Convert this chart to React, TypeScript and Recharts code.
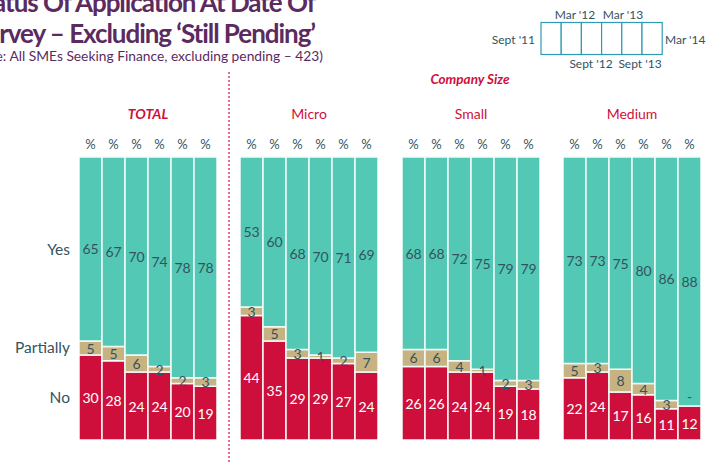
import React from 'react'
import { BarChart, Bar, XAxis, YAxis, LabelList } from 'recharts'

// survey waves, oldest first
const periods = ["Sept '11", "Mar '12", "Sept '12", "Mar '13", "Sept '13", "Mar '14"]
const periodsAbove = ["Mar '12", "Mar '13"]
const periodsBelow = ["Sept '12", "Sept '13"]

const panelNames = ['TOTAL', 'Micro', 'Small', 'Medium']
const rowLabels = ['Yes', 'Partially', 'No']

const totalNo = [30, 28, 24, 24, 20, 19]
const totalPartially = [5, 5, 6, 2, 2, 3]
const totalYes = [65, 67, 70, 74, 78, 78]

const microNo = [44, 35, 29, 29, 27, 24]
const microPartially = [3, 5, 3, 1, 2, 7]
const microYes = [53, 60, 68, 70, 71, 69]

const smallNo = [26, 26, 24, 24, 19, 18]
const smallPartially = [6, 6, 4, 1, 2, 3]
const smallYes = [68, 68, 72, 75, 79, 79]

const mediumNo = [22, 24, 17, 16, 11, 12]
const mediumPartially = [5, 3, 8, 4, 3, 0]
const mediumYes = [73, 73, 75, 80, 86, 88]

const TEAL = '#53c9b5'
const TAN = '#c7b281'
const RED = '#cf0f3b'
const SLATE = '#34535f'
const PURPLE = '#5b2b5f'
const FONT = 'Lato, "Open Sans", sans-serif'

const build = (no: number[], part: number[], yes: number[]) =>
  periods.map((p, i) => ({ period: p, no: no[i], partially: part[i], yes: yes[i] }))

const panels = [
  { name: panelNames[0], left: 79, data: build(totalNo, totalPartially, totalYes) },
  { name: panelNames[1], left: 240, data: build(microNo, microPartially, microYes) },
  { name: panelNames[2], left: 402, data: build(smallNo, smallPartially, smallYes) },
  { name: panelNames[3], left: 563, data: build(mediumNo, mediumPartially, mediumYes) },
]

const txt = (x: number, y: number, s: string | number, color: string) => (
  <text x={x} y={y} textAnchor="middle" dominantBaseline="central" fill={color} fontSize={14} fontFamily={FONT}>
    {s}
  </text>
)

function Panel({ data }: { data: any[] }) {
  // zero "partially" is shown as a dash just above the red segment
  const yesLabel = (props: any) => {
    const { x, y, width, height, value, index } = props
    const cx = x + width / 2
    return (
      <g>
        {txt(cx, y + height / 2, value, SLATE)}
        {data[index] && data[index].partially === 0 ? txt(cx, y + height - 10, '-', SLATE) : null}
      </g>
    )
  }
  const plainLabel = (color: string) => (props: any) => {
    const { x, y, width, height, value } = props
    if (!value) return null
    return txt(x + width / 2, y + height / 2, value, color)
  }
  return (
    <BarChart width={138} height={315} data={data} margin={{ top: 0, right: 0, bottom: 0, left: 0 }} barCategoryGap={0}>
      <XAxis
        dataKey="period"
        orientation="top"
        height={32}
        axisLine={false}
        tickLine={false}
        interval={0}
        tickFormatter={() => '%'}
        tick={{ fill: SLATE, fontSize: 13, fontFamily: FONT }}
      />
      <YAxis hide domain={[0, 100]} />
      <Bar dataKey="no" stackId="a" fill={RED} stroke="#f3fbf9" strokeWidth={1.5} isAnimationActive={false}>
        <LabelList dataKey="no" content={plainLabel('#ffffff')} />
      </Bar>
      <Bar dataKey="partially" stackId="a" fill={TAN} stroke="#f3fbf9" strokeWidth={1.5} isAnimationActive={false}>
        <LabelList dataKey="partially" content={plainLabel(SLATE)} />
      </Bar>
      <Bar dataKey="yes" stackId="a" fill={TEAL} stroke="#f3fbf9" strokeWidth={1.5} isAnimationActive={false}>
        <LabelList dataKey="yes" content={yesLabel} />
      </Bar>
    </BarChart>
  )
}

export default function App() {
  const abs = (s: React.CSSProperties): React.CSSProperties => ({ position: 'absolute', whiteSpace: 'nowrap', ...s })
  const rowY = [249, 347, 397]
  return (
    <div style={{ position: 'absolute', left: 0, top: 0, width: 709, height: 462, overflow: 'hidden', background: '#fff', fontFamily: FONT }}>
      {/* title, cut off on the left like the slide */}
      <div
        style={abs({
          right: 709 - 315,
          top: -13,
          fontSize: 26,
          fontWeight: 700,
          letterSpacing: -1.05,
          color: PURPLE,
          lineHeight: '31px',
          textAlign: 'right',
        })}
      >
        Status Of Application At Date Of
        <br />
        Survey – Excluding ‘Still Pending’
      </div>
      <div style={abs({ right: 709 - 323, top: 47, fontSize: 13.8, color: PURPLE, lineHeight: '18px' })}>
        (Base: All SMEs Seeking Finance, excluding pending – 423)
      </div>

      {/* wave key */}
      <svg width={709} height={70} style={{ position: 'absolute', left: 0, top: 0 }}>
        {periods.map((p, i) => (
          <rect key={p} x={541 + i * 20.2} y={22.5} width={20.2} height={32} fill="#fff" stroke="#2f9cb4" strokeWidth={1.2} />
        ))}
        <text x={535} y={39} textAnchor="end" dominantBaseline="central" fontSize={12} fill={SLATE} fontFamily={FONT}>{periods[0]}</text>
        <text x={665} y={39} textAnchor="start" dominantBaseline="central" fontSize={12} fill={SLATE} fontFamily={FONT}>{periods[5]}</text>
        <text x={575} y={14} textAnchor="middle" dominantBaseline="central" fontSize={12} fill={SLATE} fontFamily={FONT}>{periodsAbove[0]}</text>
        <text x={623} y={14} textAnchor="middle" dominantBaseline="central" fontSize={12} fill={SLATE} fontFamily={FONT}>{periodsAbove[1]}</text>
        <text x={591} y={63} textAnchor="middle" dominantBaseline="central" fontSize={12} fill={SLATE} fontFamily={FONT}>{periodsBelow[0]}</text>
        <text x={640} y={63} textAnchor="middle" dominantBaseline="central" fontSize={12} fill={SLATE} fontFamily={FONT}>{periodsBelow[1]}</text>
      </svg>

      <div style={abs({ left: 470, top: 79, transform: 'translate(-50%,-50%)', fontSize: 13.5, fontWeight: 700, fontStyle: 'italic', color: RED })}>
        Company Size
      </div>

      {/* dotted divider */}
      <div style={abs({ left: 228, top: 72, height: 390, borderLeft: '2px dotted #e0718a' })} />

      {rowLabels.map((r, i) => (
        <div key={r} style={abs({ right: 709 - 70, top: rowY[i], transform: 'translateY(-50%)', fontSize: 15.5, color: SLATE })}>
          {r}
        </div>
      ))}

      {panels.map((p, i) => (
        <React.Fragment key={p.name}>
          <div
            style={abs({
              left: p.left + 69,
              top: 113,
              transform: 'translate(-50%,-50%)',
              fontSize: 14,
              color: RED,
              fontWeight: i === 0 ? 700 : 400,
              fontStyle: i === 0 ? 'italic' : 'normal',
            })}
          >
            {p.name}
          </div>
          <div style={abs({ left: p.left, top: 125 })}>
            <Panel data={p.data} />
          </div>
        </React.Fragment>
      ))}
    </div>
  )
}
